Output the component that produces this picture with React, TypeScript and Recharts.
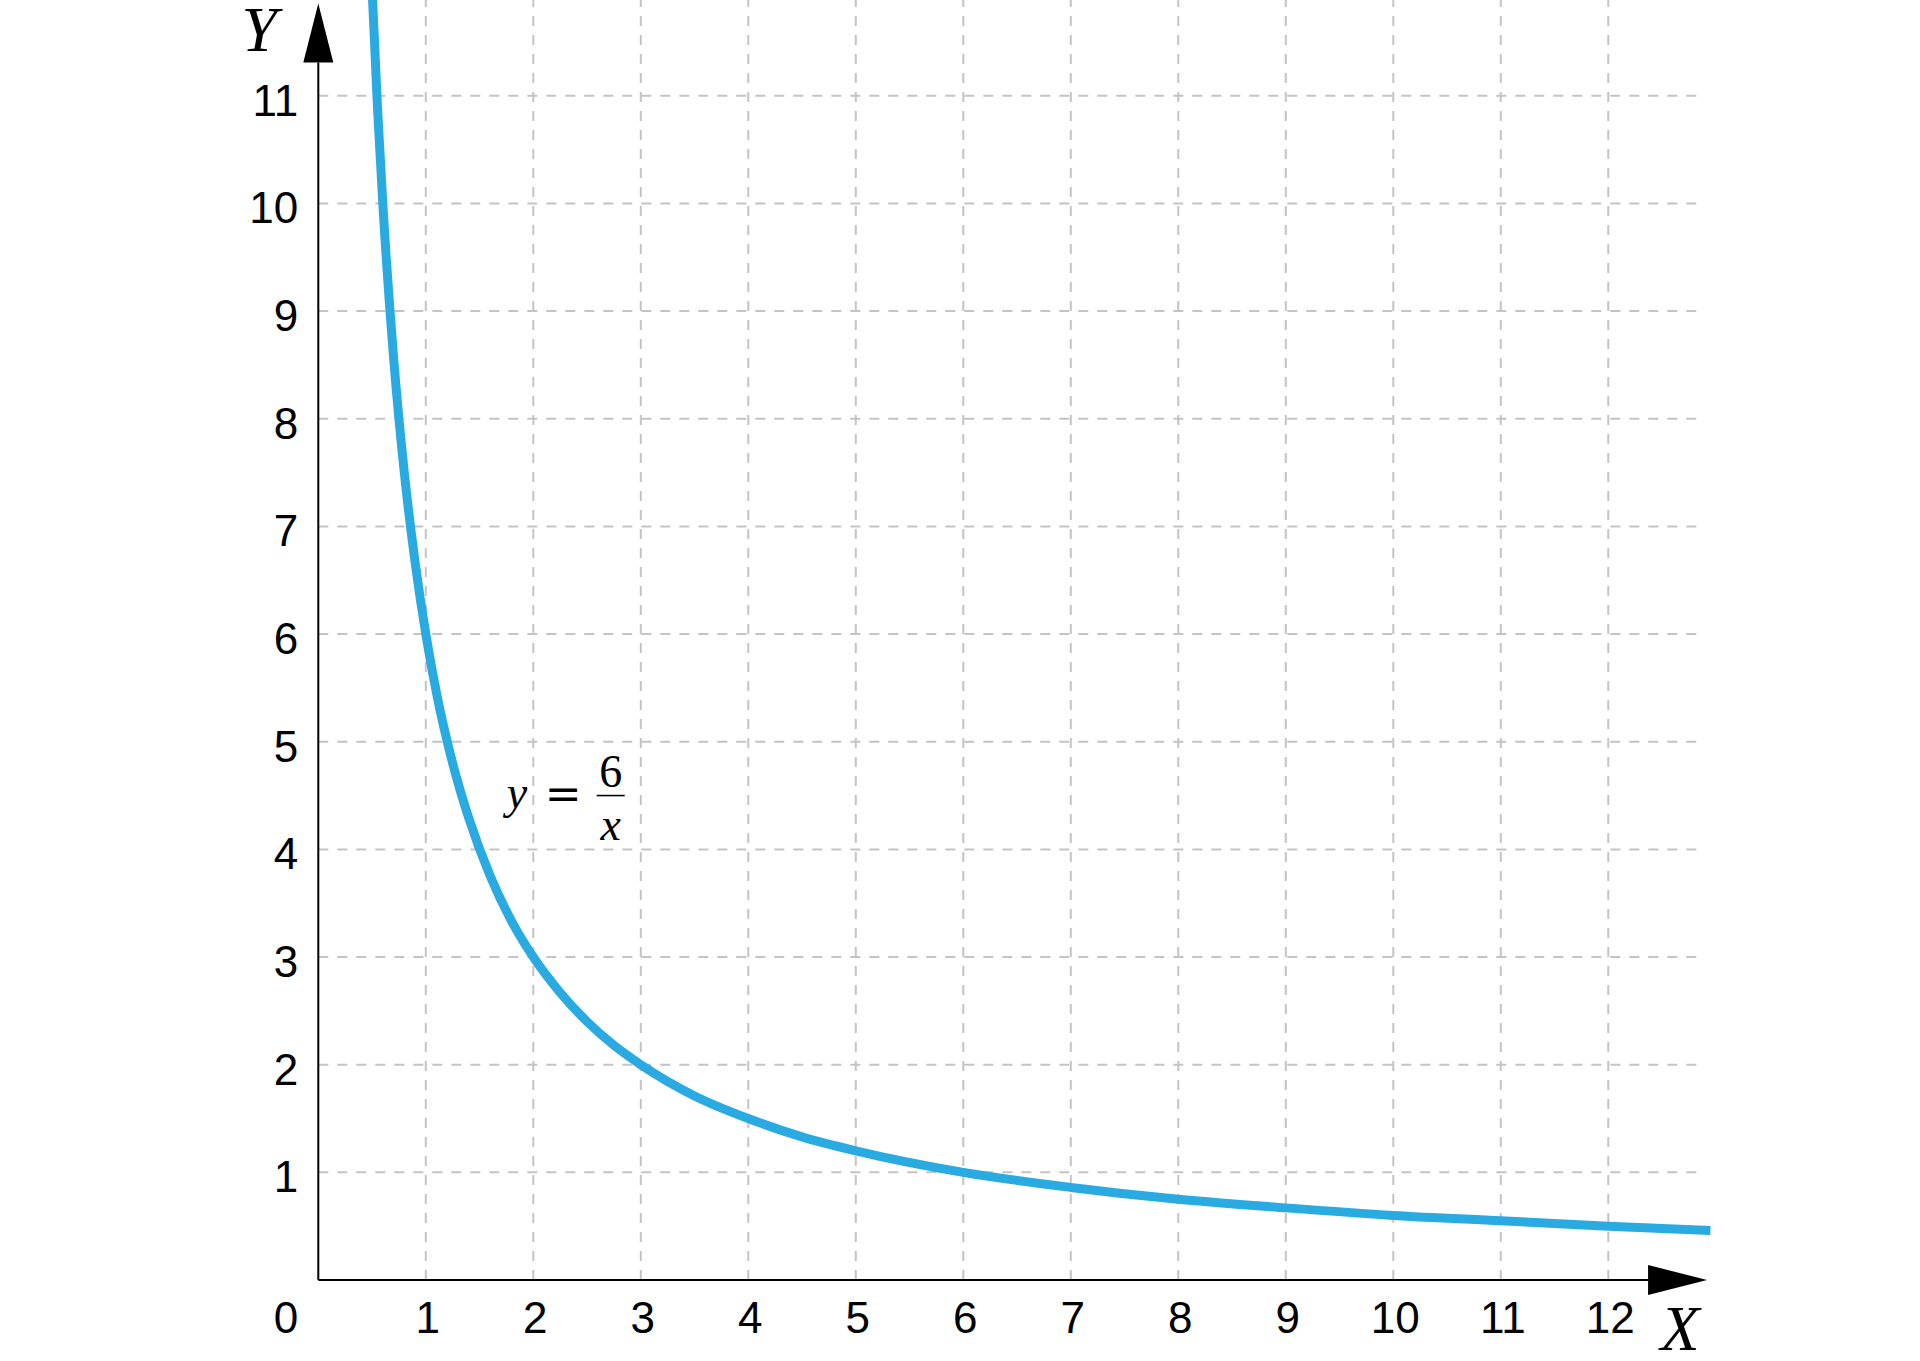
import {
  LineChart,
  Line,
  XAxis,
  YAxis,
  ReferenceLine,
  ReferenceDot,
} from 'recharts';

// values
const X_TICKS = [0, 1, 2, 3, 4, 5, 6, 7, 8, 9, 10, 11, 12];
const Y_TICKS = [1, 2, 3, 4, 5, 6, 7, 8, 9, 10, 11];
const CURVE_X = [
  0.5, 0.55, 0.6, 0.7, 0.8, 0.9, 1, 1.1, 1.25, 1.4, 1.6, 1.8, 2, 2.25, 2.5, 2.75, 3, 3.5, 4,
  4.5, 5, 6, 7, 8, 9, 10, 11, 12, 12.95,
];
const CURVE_Y = [
  12, 10.9, 10, 8.57, 7.5, 6.67, 6, 5.45, 4.8, 4.29, 3.75, 3.33, 3, 2.67, 2.4, 2.18, 2, 1.71,
  1.5, 1.33, 1.2, 1, 0.86, 0.75, 0.67, 0.6, 0.55, 0.5, 0.46,
];
const X_MAX = 12.95;
const Y_MAX = 11.89;
const GRID_X_END = 12.87;
const Y_AXIS_END = 11.31;
const X_AXIS_END = 12.37;
const LABEL_POS = { x: 2.72, y: 4.5 };

const curveData = CURVE_X.map((x, i) => ({ x, y: CURVE_Y[i] }));

const SANS = 'Liberation Sans, Arial, Helvetica, sans-serif';
const SERIF = 'Liberation Serif, Times New Roman, serif';
const GRID = '#c4c4c4';

// eslint-disable-next-line @typescript-eslint/no-explicit-any
function XTick({ x, y, payload }: any) {
  const origin = payload.value === 0;
  return (
    <text
      x={origin ? x - 20 : x + 2}
      y={y + 53}
      textAnchor={origin ? 'end' : 'middle'}
      fontSize={44}
      fontFamily={SANS}
      fill="#000"
    >
      {payload.value}
    </text>
  );
}

// eslint-disable-next-line @typescript-eslint/no-explicit-any
function YTick({ x, y, payload }: any) {
  return (
    <text x={x - 20} y={y + 20} textAnchor="end" fontSize={44} fontFamily={SANS} fill="#000">
      {payload.value}
    </text>
  );
}

// eslint-disable-next-line @typescript-eslint/no-explicit-any
function YArrow({ cx, cy }: any) {
  return (
    <g>
      <polygon points={`${cx - 15},${cy} ${cx + 15},${cy} ${cx},${cy - 59}`} fill="#000" />
      <text
        x={cx - 59}
        y={cy - 11}
        textAnchor="middle"
        fontSize={64}
        fontStyle="italic"
        fontFamily={SERIF}
        fill="#000"
      >
        Y
      </text>
    </g>
  );
}

// eslint-disable-next-line @typescript-eslint/no-explicit-any
function XArrow({ cx, cy }: any) {
  return (
    <g>
      <polygon points={`${cx},${cy - 15} ${cx},${cy + 15} ${cx + 59},${cy}`} fill="#000" />
      <text
        x={cx + 32}
        y={cy + 70}
        textAnchor="middle"
        fontSize={64}
        fontStyle="italic"
        fontFamily={SERIF}
        fill="#000"
      >
        X
      </text>
    </g>
  );
}

// eslint-disable-next-line @typescript-eslint/no-explicit-any
function Formula({ cx, cy }: any) {
  return (
    <g fontFamily={SERIF} fontSize={46} fill="#000">
      <text x={cx - 104} y={cy + 12} fontStyle="italic">
        y
      </text>
      <text x={cx - 66} y={cy + 13} fontFamily="DejaVu Serif, serif" fontSize={44}>
        =
      </text>
      <line x1={cx - 14} x2={cx + 14} y1={cy} y2={cy} stroke="#000" strokeWidth={1.6} />
      <text x={cx} y={cy - 9} textAnchor="middle">
        6
      </text>
      <text x={cx} y={cy + 44} textAnchor="middle" fontStyle="italic">
        x
      </text>
    </g>
  );
}

export default function App() {
  return (
    <div style={{ position: 'absolute', left: 0, top: 0, background: '#fff' }}>
      <LineChart
        width={1920}
        height={1361}
        data={curveData}
        margin={{ top: 0, right: 209.6, bottom: 0, left: 0 }}
      >
        <XAxis
          dataKey="x"
          type="number"
          domain={[0, X_MAX]}
          ticks={X_TICKS}
          interval={0}
          axisLine={false}
          tickLine={false}
          tickSize={0}
          tickMargin={0}
          height={81}
          tick={<XTick />}
        />
        <YAxis
          type="number"
          domain={[0, Y_MAX]}
          allowDataOverflow
          ticks={Y_TICKS}
          interval={0}
          axisLine={false}
          tickLine={false}
          tickSize={0}
          tickMargin={0}
          width={318.3}
          tick={<YTick />}
        />
        {X_TICKS.filter((v) => v > 0).map((v) => (
          <ReferenceLine
            key={`v${v}`}
            segment={[
              { x: v, y: 0 },
              { x: v, y: Y_MAX },
            ]}
            stroke={GRID}
            strokeWidth={2}
            strokeDasharray="10 9"
          />
        ))}
        {Y_TICKS.map((v) => (
          <ReferenceLine
            key={`h${v}`}
            segment={[
              { x: 0, y: v },
              { x: GRID_X_END, y: v },
            ]}
            stroke={GRID}
            strokeWidth={2}
            strokeDasharray="10 9"
          />
        ))}
        <Line
          type="monotone"
          dataKey="y"
          stroke="#29abe2"
          strokeWidth={9}
          dot={false}
          isAnimationActive={false}
        />
        <ReferenceLine
          segment={[
            { x: 0, y: 0 },
            { x: 0, y: Y_AXIS_END },
          ]}
          stroke="#000"
          strokeWidth={2}
        />
        <ReferenceLine
          segment={[
            { x: 0, y: 0 },
            { x: X_AXIS_END, y: 0 },
          ]}
          stroke="#000"
          strokeWidth={2}
        />
        <ReferenceDot x={0} y={Y_AXIS_END} r={1} shape={<YArrow />} />
        <ReferenceDot x={X_AXIS_END} y={0} r={1} shape={<XArrow />} />
        <ReferenceDot x={LABEL_POS.x} y={LABEL_POS.y} r={1} shape={<Formula />} />
      </LineChart>
    </div>
  );
}
